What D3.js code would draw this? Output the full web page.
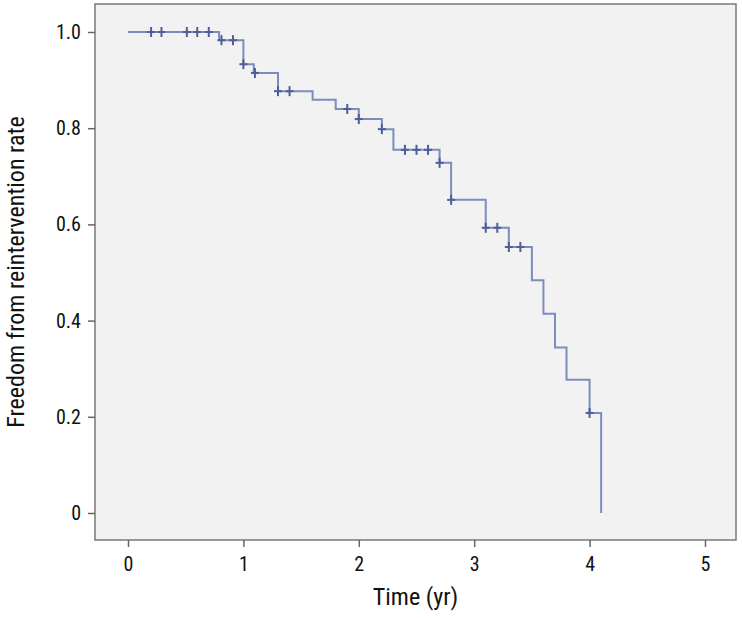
<!DOCTYPE html>
<html>
<head>
<meta charset="utf-8">
<script src="https://cdn.jsdelivr.net/npm/d3@7"></script>
<style>
  body { margin: 0; background: #fff; }
  text { font-family: "Liberation Sans Narrow", "Roboto Condensed", "Liberation Sans", sans-serif; }
</style>
</head>
<body>
<div id="chart"></div>
<script>
// step times (yr) and survival after each drop
const stepTimes = [0, 0.79, 1.0, 1.09, 1.3, 1.6, 1.8, 2.0, 2.2, 2.3, 2.7, 2.8, 3.1, 3.3, 3.5, 3.6, 3.7, 3.8, 4.0, 4.1]
const stepSurv  = [1.0, 0.983, 0.933, 0.915, 0.877, 0.859, 0.840, 0.819, 0.798, 0.755, 0.728, 0.651, 0.593, 0.553, 0.484, 0.414, 0.344, 0.277, 0.208, 0.0]
// censored observations (yr)
const censorTimes = [0.2, 0.29, 0.51, 0.6, 0.7, 0.81, 0.91, 1.0, 1.1, 1.3, 1.4, 1.9, 2.0, 2.2, 2.4, 2.5, 2.6, 2.7, 2.8, 3.1, 3.2, 3.3, 3.4, 4.0]
const xTicks = [0, 1, 2, 3, 4, 5]
const yTicks = [0, 0.2, 0.4, 0.6, 0.8, 1.0]

const width = 742, height = 618
const frame = {left: 95, top: 4, right: 736, bottom: 540}

const svg = d3.select("#chart").append("svg")
    .attr("width", width)
    .attr("height", height)

// plot background + frame
svg.append("rect")
    .attr("x", frame.left).attr("y", frame.top)
    .attr("width", frame.right - frame.left)
    .attr("height", frame.bottom - frame.top)
    .attr("fill", "#f2f2f2")
    .attr("stroke", "#7a7a7a")
    .attr("stroke-width", 1.5)

const x = d3.scaleLinear().domain([0, 5]).range([128, 705])
const y = d3.scaleLinear().domain([0, 1]).range([513, 32])

// axes
const xAxis = svg.append("g")
    .attr("transform", "translate(0," + frame.bottom + ")")
    .call(d3.axisBottom(x).tickValues(xTicks).tickSize(7).tickPadding(10).tickFormat(d3.format("d")))
const yAxis = svg.append("g")
    .attr("transform", "translate(" + frame.left + ",0)")
    .call(d3.axisLeft(y).tickValues(yTicks).tickSize(7).tickPadding(7)
        .tickFormat(d => d === 0 ? "0" : d.toFixed(1)))

for (const ax of [xAxis, yAxis]) {
    ax.select(".domain").remove()
    ax.selectAll(".tick line").attr("stroke", "#666").attr("stroke-width", 1.5)
    ax.selectAll(".tick text").attr("fill", "#111").style("font-size", "20px")
}

// axis titles
svg.append("text")
    .attr("x", (frame.left + frame.right) / 2)
    .attr("y", 605)
    .attr("text-anchor", "middle")
    .style("font-size", "24px")
    .attr("fill", "#111")
    .text("Time (yr)")

svg.append("text")
    .attr("transform", "translate(24," + ((frame.top + frame.bottom) / 2) + ") rotate(-90)")
    .attr("text-anchor", "middle")
    .style("font-size", "24px")
    .attr("fill", "#111")
    .text("Freedom from reintervention rate")

// Kaplan-Meier step curve
const steps = stepTimes.map((t, i) => [t, stepSurv[i]])
const line = d3.line()
    .x(d => x(d[0]))
    .y(d => y(d[1]))
    .curve(d3.curveStepAfter)

svg.append("path")
    .datum(steps)
    .attr("d", line)
    .attr("fill", "none")
    .attr("stroke", "#7a8dbd")
    .attr("stroke-width", 2)

// survival at time t (value after any drop at t)
const survAt = function(t) {
    let s = stepSurv[0]
    for (let i = 0; i < stepTimes.length; i++) {
        if (stepTimes[i] <= t + 1e-9) s = stepSurv[i]
    }
    return s
}

const marks = svg.append("g")
    .attr("stroke", "#4d5f96")
    .attr("stroke-width", 2)
marks.selectAll("line.v")
    .data(censorTimes)
    .join("line")
    .attr("class", "v")
    .attr("x1", d => x(d)).attr("x2", d => x(d))
    .attr("y1", d => y(survAt(d)) - 5)
    .attr("y2", d => y(survAt(d)) + 5)
marks.selectAll("line.h")
    .data(censorTimes)
    .join("line")
    .attr("class", "h")
    .attr("x1", d => x(d) - 4).attr("x2", d => x(d) + 4)
    .attr("y1", d => y(survAt(d)))
    .attr("y2", d => y(survAt(d)))
</script>
</body>
</html>
